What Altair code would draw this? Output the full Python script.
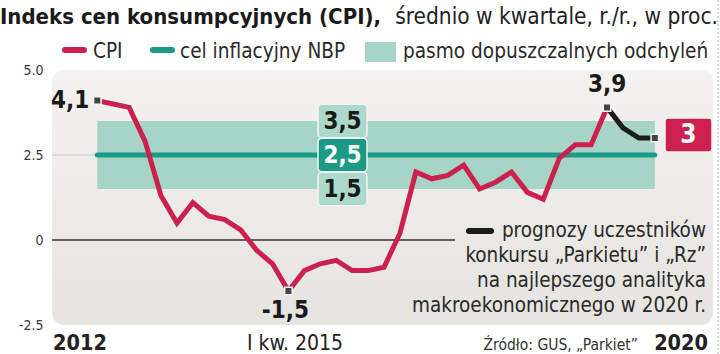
import altair as alt
import pandas as pd

# ---------------- data ----------------
quarters = [f"{y} Q{q}" for y in range(2012, 2021) for q in range(1, 5)]
cpi_values = [4.1, 4.0, 3.9, 2.9, 1.3, 0.5, 1.1, 0.7, 0.6, 0.3, -0.3, -0.7,
              -1.5, -0.9, -0.7, -0.6, -0.9, -0.9, -0.8, 0.2, 2.0, 1.8, 1.9, 2.2,
              1.5, 1.7, 2.0, 1.4, 1.2, 2.4, 2.8, 2.8, 3.9]
forecast_quarters = ["2020 Q1", "2020 Q2", "2020 Q3", "2020 Q4"]
forecast_values = [3.9, 3.3, 3.0, 3.0]
band_low = 1.5
band_high = 3.5
target = 2.5
y_ticks = [-2.5, 0, 2.5, 5.0]
x_labels = ["2012", "I kw. 2015", "2020"]

title_bold = "Indeks cen konsumpcyjnych (CPI),"
title_reg = "średnio w kwartale, r./r., w proc."
legend_items = ["CPI", "cel inflacyjny NBP", "pasmo dopuszczalnych odchyleń"]
forecast_note = ["prognozy uczestników", "konkursu „Parkietu” i „Rz”",
                 "na najlepszego analityka", "makroekonomicznego w 2020 r."]
source = "Źródło: GUS, „Parkiet”"

# ---------------- tables ----------------
cpi_df = pd.DataFrame({"q": quarters[:len(cpi_values)], "v": cpi_values})
cpi_df["i"] = [quarters.index(q) for q in cpi_df["q"]]
fc_df = pd.DataFrame({"q": forecast_quarters, "v": forecast_values})
fc_df["i"] = [quarters.index(q) for q in fc_df["q"]]
band_df = pd.DataFrame({"i0": [0], "i1": [len(quarters) - 1],
                        "lo": [band_low], "hi": [band_high], "t": [target]})
boxes_df = pd.DataFrame({"v": [band_high, target, band_low]})
zero_df = pd.DataFrame({"v": [0.0]})
grid_df = pd.DataFrame({"v": [target]})
marks_df = pd.concat([cpi_df.iloc[[0, 12, len(cpi_df) - 1]], fc_df.iloc[[len(fc_df) - 1]]])
dummy = pd.DataFrame({"d": [0]})

FONT = "Liberation Sans Narrow, DejaVu Sans Condensed, Roboto Condensed, Roboto, sans-serif"
RED = "#cc2150"
TEAL = "#1b9a85"
BAND = "#a6d5c7"
DARK = "#1a1a1a"
MINUS = "\u2212"

xs = alt.Scale(domain=[-2.844, 38.59], nice=False, zero=False)
ys = alt.Scale(domain=[-2.5, 5.0], nice=False, zero=False)
yaxis = alt.Axis(values=y_ticks,
                 labelExpr=f"datum.value == 0 ? '0' : replace(format(datum.value, '.1f'), '{MINUS}', '-')",
                 grid=False, domain=False, ticks=False, title=None,
                 labelFont=FONT, labelFontSize=14, labelColor="#3a3a3a",
                 labelPadding=9, labelFlush=False, labelOverlap=False)


def X(f):
    return alt.X(f"{f}:Q", scale=xs, axis=None)


def Y(f):
    return alt.Y(f"{f}:Q", scale=ys, axis=yaxis)


def txt(s, x, y, size, weight="normal", align="left", color=DARK, baseline="alphabetic"):
    return alt.Chart(dummy).mark_text(
        text=s, fontSize=size, fontWeight=weight, align=align,
        baseline=baseline, font=FONT, color=color
    ).encode(x=alt.value(x), y=alt.value(y))


bg = alt.Chart(dummy).mark_rect(
    cornerRadius=12,
    fill=alt.Gradient(gradient="linear", x1=0, x2=0, y1=0, y2=1,
                      stops=[alt.GradientStop(color="#f3f2f0", offset=0),
                             alt.GradientStop(color="#e5e4e1", offset=1)])
).encode(x=alt.value(0), x2=alt.value(661), y=alt.value(0), y2=alt.value(255))

grid = alt.Chart(grid_df).mark_rule(color="#c9c9c9", strokeWidth=1).encode(
    y=Y("v"), x=alt.value(0), x2=alt.value(46))

zero = alt.Chart(zero_df).mark_rule(color="#333333", strokeWidth=1.5).encode(
    y=Y("v"), x=alt.value(0), x2=alt.value(403))

band = alt.Chart(band_df).mark_rect(color=BAND, opacity=1).encode(
    x=X("i0"), x2="i1", y=Y("hi"), y2="lo")

target_line = alt.Chart(band_df).mark_rule(color=TEAL, strokeWidth=5, strokeCap="round").encode(
    x=X("i0"), x2="i1", y=Y("t"))

cpi_line = alt.Chart(cpi_df).mark_line(color=RED, strokeWidth=5).encode(
    x=X("i"), y=Y("v"))

fc_line = alt.Chart(fc_df).mark_line(color="#1c1c1c", strokeWidth=5).encode(
    x=X("i"), y=Y("v"))

markers = alt.Chart(marks_df).mark_square(
    size=56, filled=True, color="#444444", stroke="#f4f4f4", strokeWidth=1.5, opacity=1
).encode(x=X("i"), y=Y("v"))

fmt = f"replace(replace(format(datum.v, '.1f'), '.', ','), '{MINUS}', '-')"
NUM = 24


def val_label(row, dx, dy, align):
    return alt.Chart(cpi_df.iloc[[row]]).transform_calculate(lbl=fmt).mark_text(
        font=FONT, fontSize=NUM, fontWeight="bold", color=DARK, align=align,
        baseline="middle", dx=dx, dy=dy
    ).encode(x=X("i"), y=Y("v"), text="lbl:N")


lab_first = val_label(0, -8, 0, "right")
lab_min = val_label(12, -3, 20, "center")
lab_last = val_label(len(cpi_df) - 1, 0, -22, "center")

boxes = alt.Chart(boxes_df).transform_calculate(
    top="datum.v + 0.49", bot="datum.v - 0.49"
).mark_rect(cornerRadius=4, stroke="#f4f4f4", strokeWidth=1.5).encode(
    x=alt.value(266), x2=alt.value(315), y=Y("top"), y2="bot",
    fill=alt.condition(f"datum.v == {target}", alt.value(TEAL), alt.value("#acd9cb")))

box_text = alt.Chart(boxes_df).transform_calculate(lbl=fmt).mark_text(
    font=FONT, fontSize=NUM, fontWeight="bold", baseline="middle", align="center", dy=1
).encode(x=alt.value(290.5), y=Y("v"), text="lbl:N",
         color=alt.condition(f"datum.v == {target}", alt.value("white"), alt.value(DARK)))

end_box = alt.Chart(dummy).mark_rect(cornerRadius=3, fill=RED, stroke="#f4f4f4", strokeWidth=1.5).encode(
    x=alt.value(613), x2=alt.value(660), y=alt.value(48), y2=alt.value(82))
end_text = alt.Chart(fc_df.iloc[[len(fc_df) - 1]]).transform_calculate(
    lbl="format(datum.v, '.0f')"
).mark_text(font=FONT, fontSize=26, fontWeight="bold", color="white",
            baseline="middle", align="center", dy=-3).encode(
    x=alt.value(636.5), y=Y("v"), text="lbl:N")

# legend
LEG = 20.6
leg_red = alt.Chart(dummy).mark_rule(color=RED, strokeWidth=6, strokeCap="round").encode(
    x=alt.value(13), x2=alt.value(32), y=alt.value(-20))
leg_teal = alt.Chart(dummy).mark_rule(color=TEAL, strokeWidth=6, strokeCap="round").encode(
    x=alt.value(101), x2=alt.value(120), y=alt.value(-20))
leg_band = alt.Chart(dummy).mark_rect(fill=BAND).encode(
    x=alt.value(313), x2=alt.value(344), y=alt.value(-28), y2=alt.value(-8))
leg_t1 = txt(legend_items[0], 41, -12, LEG, color="#2a2a2a")
leg_t2 = txt(legend_items[1], 128, -12, LEG, color="#2a2a2a")
leg_t3 = txt(legend_items[2], 351, -12, LEG, color="#2a2a2a")

# forecast note
NOTE = 20.5
note_swatch = alt.Chart(dummy).mark_rule(color="#1c1c1c", strokeWidth=6, strokeCap="round").encode(
    x=alt.value(417), x2=alt.value(439), y=alt.value(161))
note_layers = [txt(line, 654, 167 + 25 * k, NOTE, align="right", color="#2a2a2a")
               for k, line in enumerate(forecast_note)]

# title
t_bold = txt(title_bold, -52, -46, 22, weight="bold", color=DARK)
t_reg = txt(title_reg, 666, -46, 22.5, align="right", color="#222222")

# bottom labels
b1 = txt(x_labels[0], 1, 280, 21.5, weight="bold", color="#222222")
b2 = txt(x_labels[1], 195, 280, 21, color="#222222")
b3 = txt(source, 586, 280, 15.5, align="right", color="#333333")
b4 = txt(x_labels[2], 656, 280, 21.5, weight="bold", align="right", color="#222222")

edge = alt.Chart(dummy).mark_rule(color="#b0b0b0", strokeWidth=1, strokeDash=[2, 2]).encode(
    x=alt.value(666), y=alt.value(-70), y2=alt.value(284))

chart = alt.layer(
    bg, grid, zero, band, target_line, cpi_line, fc_line, markers,
    lab_first, lab_min, lab_last, boxes, box_text, end_box, end_text,
    leg_red, leg_teal, leg_band, leg_t1, leg_t2, leg_t3,
    note_swatch, *note_layers, t_bold, t_reg, b1, b2, b3, b4, edge
).properties(
    width=660, height=255,
    autosize=alt.AutoSizeParams(type="none"),
    padding={"left": 52, "top": 70, "right": 8, "bottom": 29},
    background="white"
).configure_view(stroke=None)

chart.save("out.html", embed_options={"renderer": "svg", "actions": False})
